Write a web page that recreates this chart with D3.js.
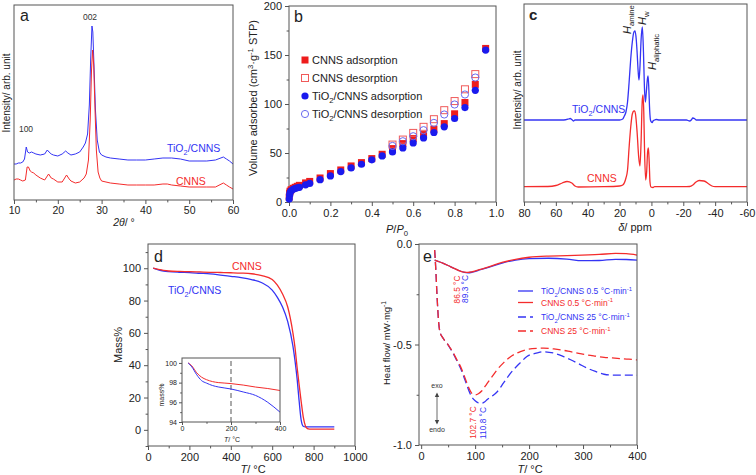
<!DOCTYPE html>
<html><head><meta charset="utf-8">
<script src="https://cdn.jsdelivr.net/npm/d3@7"></script>
<style>body{margin:0;background:#fff}svg{font-family:Arial,"Liberation Sans",sans-serif}</style>
</head><body><svg id="c" width="756" height="475"></svg>
<script>
// ---------- DATA ----------
// (a) XRD
const xrdThetaTi = [10,10.5,11,11.5,12,12.4,12.8,13.1,13.5,14,14.5,15,16,17,17.6,18,18.5,19,20,21,21.8,22.3,23,24,25,25.8,26.3,26.8,27.2,27.5,27.8,28.0,28.3,28.6,29,29.5,30,31,32,34,36,38,40,42,44,46,48,50,52,54,56,57.8,58.5,59.2,60];
const xrdIntTi   = [36,36,37,37,38,41,53,48,47,48,47,46,45,46,50,48,46,45,44,46,49,47,45,46,48,53,57,66,95,140,174,168,130,90,60,48,45,43,42,41,40,40,40,41,42,42,41,39,39,39,40,43,41,39,36];
const xrdThetaCN = [10,10.5,11,11.5,12,12.6,13.0,13.3,13.7,14,14.5,15,16,17,17.9,18.5,19,20,21,22,22.6,23,24,25,26,26.5,27,27.4,27.7,27.95,28.2,28.5,28.8,29.2,29.6,30,32,34,36,38,40,42,44,45,46,48,50,52,54,56,57.8,58.5,59.2,60];
const xrdIntCN   = [20,21,21,20,19,20,33,33,29,28,27,25,22,20,26,22,21,18,18,25,21,19,17,18,22,26,40,80,130,150,135,90,50,28,22,19,17,16,15,15,15,15,16,16,15,14,13,13,13,13,17,15,13,11];
const xrdTicks = [10,20,30,40,50,60];
const xrdMinor = [15,25,35,45,55];

// (b) N2 isotherms
const bP = [0.001,0.003,0.005,0.01,0.02,0.03,0.04,0.05,0.08,0.1,0.15,0.2,0.25,0.3,0.35,0.4,0.45,0.5,0.55,0.6,0.65,0.7,0.75,0.8,0.85,0.9,0.95];
const cnnsAds = [5,9,11,12.5,14,15,16,17,19.5,21,24.5,29,32.7,36.8,40.2,44.3,48.7,54.5,59.6,64.7,68.8,74.3,80,90,101.5,120,156.7];
const tiAds   = [3,7,9.5,11.5,13,14,14.5,15,17.5,19,22.8,26.6,31,34.8,38.5,43,47,51.1,55.2,60.3,65.4,70.9,76.7,85.2,96.4,114,155];
const bPdes = [0.5,0.55,0.6,0.65,0.7,0.75,0.8,0.85,0.9];
const cnnsDes = [58.6,63.7,70.5,76.7,84.5,93.7,103,115,130.5];
const tiDes   = [57.2,62,67.1,73.3,80.7,89.3,99.5,109.7,127];
const bLegend = ["CNNS adsorption","CNNS desorption","TiO2/CNNS adsorption","TiO2/CNNS desorption"];

// (c) 1H NMR
const nmrPpmTi = [80,55,52,51,50,49,48,30,20,18,17,16,15,14,13,12,11,10.3,9.5,9,8.3,7.8,7.2,6.5,5.7,5.0,4.4,3.8,3.3,2.6,2.1,1.6,1.1,0.6,0,-0.5,-1,-2,-3,-5,-22,-24,-25,-26,-27,-28,-30,-60];
const nmrIntTi = [82,82,83,83.5,82.5,81,82,82,82,83,86,90,100,120,143,160,170,171,162,150,130,122,135,162,175,150,115,100,108,122,126,112,92,82,80,79.5,81,82,82.5,82,82,81,82,84,83.5,82,82,82];
const nmrPpmCN = [80,65,60,56,53,50,48,46,30,20,18,16,15,14,13,12,11,10.5,10,9,8,7.2,6.5,5.8,5.3,4.8,4.3,3.6,3,2.4,1.9,1.4,0.9,0.3,-1,-2,-20,-24,-26,-28,-30,-33,-36,-38,-40,-60];
const nmrIntCN = [15.3,15.5,16.5,19,20.5,19,16,15,15.3,16,17,24,32,55,75,88,91,91,88,70,45,36,60,100,107,90,50,22,30,50,54,40,20,15,14.5,15.3,15.3,15.5,17,20,21.5,21,18,16,15.3,15.3];
const nmrTicks = [80,60,40,20,0,-20,-40,-60];
const nmrMinor = [70,50,30,10,-10,-30,-50];

// (d) TGA
const tgaT = [25,50,75,100,150,200,250,300,350,400,450,500,550,600,625,650,675,700,710,720,730,740,750,760,770,780,800,850,900];
const tgaCNNS = [100,99.3,98.7,98.3,98.0,97.9,97.7,97.5,97.35,97.2,97.0,96.6,95.5,93,89.5,84,76,60,51,39,28,17.5,8,2.5,0.8,0.5,0.4,0.4,0.4];
const tgaTi   = [100,99.0,98.3,97.9,97.5,97.3,96.9,96.5,95.8,95.0,94.2,93,91,86.5,82,76,67,52,43,32,18,6,2.2,1.8,1.8,1.8,1.8,1.8,1.8];
const insetT = [25,40,60,80,100,125,150,175,200,250,300,350,400];
const insetCNNS = [100,99.7,99.0,98.55,98.3,98.1,98.0,97.95,97.9,97.75,97.55,97.4,97.2];
const insetTi   = [100,99.6,98.8,98.2,97.95,97.7,97.55,97.45,97.35,97.05,96.7,96.0,95.0];

// (e) DSC
const dscT05 = [25,30,40,50,60,70,80,87,95,110,125,150,175,200,236,270,298,330,360,380,400];
const dscTi05 = [-0.08,-0.085,-0.095,-0.107,-0.12,-0.132,-0.141,-0.143,-0.14,-0.128,-0.116,-0.095,-0.08,-0.073,-0.071,-0.075,-0.083,-0.082,-0.076,-0.077,-0.08];
const dscCN05 = [-0.08,-0.085,-0.095,-0.107,-0.12,-0.132,-0.14,-0.141,-0.138,-0.126,-0.114,-0.092,-0.076,-0.066,-0.06,-0.058,-0.055,-0.052,-0.047,-0.048,-0.055];
const dscT25 = [25,27,29.5,32.6,35,38.8,43,48,54,60,66,73,79,85,90,94,100,106,112.6,118,122,130,141,153,165,184,196,215,227,246,262,277,292,308,323,339,354,369,385,400];
const dscCN25 = [-0.03,-0.12,-0.262,-0.395,-0.44,-0.461,-0.478,-0.494,-0.518,-0.544,-0.575,-0.61,-0.65,-0.693,-0.725,-0.743,-0.751,-0.745,-0.73,-0.71,-0.695,-0.665,-0.625,-0.59,-0.562,-0.535,-0.525,-0.519,-0.518,-0.522,-0.528,-0.536,-0.544,-0.552,-0.558,-0.564,-0.567,-0.57,-0.573,-0.577];
const dscTi25 = [-0.03,-0.12,-0.262,-0.395,-0.44,-0.461,-0.478,-0.494,-0.52,-0.548,-0.58,-0.618,-0.66,-0.705,-0.74,-0.762,-0.78,-0.79,-0.792,-0.785,-0.775,-0.76,-0.735,-0.69,-0.645,-0.59,-0.56,-0.542,-0.536,-0.543,-0.558,-0.576,-0.596,-0.618,-0.634,-0.648,-0.652,-0.652,-0.652,-0.653];

// ---------- DRAWING ----------
const svg = d3.select('#c');
const BLUE = '#3434f4', RED = '#f42c2c', INK = '#222', FRAME = '#555';

function rich(sel, parts, fs){
  let shift = 0;
  parts.forEach(p => {
    const [s,t] = Array.isArray(p) ? p : [p,'n'];
    const ts = sel.append('tspan').text(s);
    let target = 0;
    if (t==='sub'){ target = fs*0.3; ts.attr('font-size', fs*0.7); }
    if (t==='sup'){ target = -fs*0.4; ts.attr('font-size', fs*0.7); }
    if (t==='i' ) ts.attr('font-style','italic');
    if (target !== shift){ ts.attr('dy', target - shift); shift = target; }
  });
}
function label(x, y, parts, o={}){
  const fs = o.fs || 11;
  const t = svg.append('text').attr('x',x).attr('y',y).attr('font-size',fs)
    .attr('fill', o.color || INK).attr('text-anchor', o.anchor || 'start');
  if (o.rot) t.attr('transform',`rotate(-90,${x},${y})`);
  if (o.weight) t.attr('font-weight', o.weight);
  rich(t, typeof parts === 'string' ? [parts] : parts, fs);
  return t;
}
function frame(xs, ys){
  const [x0,x1] = xs.range(), [y0,y1] = ys.range();
  svg.append('rect').attr('x',Math.min(x0,x1)).attr('y',Math.min(y0,y1))
    .attr('width',Math.abs(x1-x0)).attr('height',Math.abs(y1-y0))
    .attr('fill','none').attr('stroke',FRAME).attr('stroke-width',1);
}
function axis(kind, scale, pos, major, minor, fmt, fs=11, size=4, pad=3){
  const mk = kind==='x' ? d3.axisBottom : d3.axisLeft;
  const tr = kind==='x' ? `translate(0,${pos})` : `translate(${pos},0)`;
  const gm = svg.append('g').attr('transform',tr).call(mk(scale).tickValues(minor).tickSize(size*0.6).tickFormat(''));
  const g = svg.append('g').attr('transform',tr).call(mk(scale).tickValues(major).tickSize(size).tickPadding(pad).tickFormat(fmt));
  [gm,g].forEach(a => { a.select('.domain').remove(); a.selectAll('line').attr('stroke',FRAME); });
  g.attr('font-family',null).attr('font-size',fs);
  g.selectAll('text').attr('fill',INK);
}
function line(xs, ys, X, Y, color, opts={}){
  const gen = d3.line().x((d,i)=>xs(X[i])).y((d,i)=>ys(Y[i])).curve(opts.curve || d3.curveMonotoneX);
  svg.append('path').attr('d', gen(X)).attr('fill','none').attr('stroke',color)
    .attr('stroke-width', opts.w || 1.2).attr('stroke-dasharray', opts.dash || null)
    .attr('stroke-linejoin','round');
}
const TI = ['TiO',['2','sub'],'/CNNS'];

// ----- (a) -----
{
  const x = d3.scaleLinear([10,60],[14,233]);
  const y = d3.scaleLinear([0,195],[200,5]);
  line(x,y,xrdThetaTi,xrdIntTi,BLUE,{w:1,curve:d3.curveLinear});
  line(x,y,xrdThetaCN,xrdIntCN,RED,{w:1,curve:d3.curveLinear});
  frame(x,y);
  axis('x',x,200,xrdTicks,xrdMinor,d=>String(d),10.5);
  label(20,21,'a',{fs:16});
  label(90,20,'002',{fs:8.5,anchor:'middle',color:'#333'});
  label(26,132,'100',{fs:8.5,anchor:'middle',color:'#333'});
  label(167,152,TI,{fs:10.5,color:BLUE});
  label(176,185,'CNNS',{fs:10.5,color:RED});
  label(10,93,'Intensity/ arb. unit',{fs:10,rot:true,anchor:'middle'});
  label(124,226,[['2θ','i'],'/ °'],{fs:10.5,anchor:'middle'});
}

// ----- (b) -----
{
  const x = d3.scaleLinear([0,1],[289,496]);
  const y = d3.scaleLinear([0,200],[202,6]);
  frame(x,y);
  axis('x',x,202,[0,0.2,0.4,0.6,0.8,1.0],[0.1,0.3,0.5,0.7,0.9],d=>d.toFixed(1),11);
  axis('y',y,289,[0,50,100,150,200],[25,75,125,175],d=>String(d),11);
  const S = 7, R = 3.6;
  const sq = (data, X, fill, stroke) => svg.append('g').selectAll('rect').data(data).join('rect')
      .attr('x',(d,i)=>x(X[i])-S/2).attr('y',d=>y(d)-S/2).attr('width',S).attr('height',S)
      .attr('fill',fill).attr('stroke',stroke).attr('stroke-width',1);
  const ci = (data, X, fill, stroke) => svg.append('g').selectAll('circle').data(data).join('circle')
      .attr('cx',(d,i)=>x(X[i])).attr('cy',d=>y(d)).attr('r',R)
      .attr('fill',fill).attr('stroke',stroke).attr('stroke-width',1);
  sq(cnnsAds,bP,'#ee1c1c','none');
  sq(cnnsDes,bPdes,'none','#f05a5a');
  ci(tiAds,bP,'#1a1aee','none');
  ci(tiDes,bPdes,'none','#6a6af0');
  // legend
  const rows = [60,78,96,114];
  svg.append('rect').attr('x',305-S/2).attr('y',rows[0]-S/2).attr('width',S).attr('height',S).attr('fill','#ee1c1c');
  svg.append('rect').attr('x',305-S/2).attr('y',rows[1]-S/2).attr('width',S).attr('height',S).attr('fill','none').attr('stroke','#f05a5a');
  svg.append('circle').attr('cx',305).attr('cy',rows[2]).attr('r',R).attr('fill','#1a1aee');
  svg.append('circle').attr('cx',305).attr('cy',rows[3]).attr('r',R).attr('fill','none').attr('stroke','#6a6af0');
  bLegend.forEach((t,i) => {
    const parts = t.startsWith('TiO2') ? ['TiO',['2','sub'],t.slice(4)] : [t];
    label(312,rows[i]+4,parts,{fs:11});
  });
  label(294,22,'b',{fs:16});
  label(257,98,['Volume adsorbed (cm',['3','sup'],'·g',['-1','sup'],' STP)'],{fs:11,rot:true,anchor:'middle'});
  label(397,233,[['P','i'],'/',['P','i'],['0','sub']],{fs:11,anchor:'middle'});
}

// ----- (c) -----
{
  const x = d3.scaleLinear([80,-60],[524,747]);
  const y = d3.scaleLinear([0,198],[202,4]);
  line(x,y,nmrPpmTi,nmrIntTi,BLUE,{w:1.3});
  line(x,y,nmrPpmCN,nmrIntCN,RED,{w:1.3});
  frame(x,y);
  axis('x',x,202,nmrTicks,nmrMinor,d=>String(d),11);
  label(529,20,'c',{fs:15,weight:'bold'});
  label(572,113,TI,{fs:10.5,color:BLUE});
  label(587,182,'CNNS',{fs:10.5,color:RED});
  label(631,34,[['H','i'],['amine','sub']],{fs:11,rot:true});
  label(646,25,[['H','i'],['w','sub']],{fs:11,rot:true});
  label(656,70,[['H','i'],['aliphatic','sub']],{fs:11,rot:true});
  label(521,90,'Intensity/ arb. unit',{fs:10,rot:true,anchor:'middle'});
  label(635,231,[['δ','i'],'/ ppm'],{fs:11,anchor:'middle'});
}

// ----- (d) -----
{
  const x = d3.scaleLinear([0,1000],[148,355]);
  const y = d3.scaleLinear([-10,115],[446,244]);
  line(x,y,tgaT,tgaTi,BLUE,{w:1.3});
  line(x,y,tgaT,tgaCNNS,RED,{w:1.3});
  frame(x,y);
  axis('x',x,446,[0,200,400,600,800,1000],[100,300,500,700,900],d=>String(d),11);
  axis('y',y,148,[0,20,40,60,80,100],[-10,10,30,50,70,90,110],d=>String(d),11);
  label(154,262,'d',{fs:16});
  label(232,269.5,'CNNS',{fs:10.5,color:RED});
  label(168,293.5,TI,{fs:10.5,color:BLUE});
  label(122,345,'Mass%',{fs:11,rot:true,anchor:'middle'});
  label(253,473,[['T','i'],'/ °C'],{fs:11,anchor:'middle'});
  // inset
  const xi = d3.scaleLinear([0,400],[182,280]);
  const yi = d3.scaleLinear([94,100.5],[422,358]);
  svg.append('rect').attr('x',182).attr('y',358).attr('width',98).attr('height',64).attr('fill','#fff');
  svg.append('line').attr('x1',xi(200)).attr('x2',xi(200)).attr('y1',yi.range()[0]).attr('y2',yi.range()[1])
    .attr('stroke','#555').attr('stroke-width',1).attr('stroke-dasharray','5,3');
  line(xi,yi,insetT,insetCNNS,RED,{w:1});
  line(xi,yi,insetT,insetTi,BLUE,{w:1});
  frame(xi,yi);
  axis('x',xi,422,[0,200,400],[100,300],d=>String(d),7,3,1.5);
  axis('y',yi,182,[94,96,98,100],[95,97,99],d=>String(d),7,3,2);
  label(164,395,'mass%',{fs:7,rot:true,anchor:'middle'});
  label(232,441.5,[['T','i'],'/ °C'],{fs:7,anchor:'middle'});
}

// ----- (e) -----
{
  const x = d3.scaleLinear([-4,400],[419,637]);
  const y = d3.scaleLinear([-1,0],[445,244]);
  line(x,y,dscT25,dscTi25,BLUE,{w:1.3,dash:'8,4'});
  line(x,y,dscT25,dscCN25,RED,{w:1.3,dash:'8,4'});
  line(x,y,dscT05,dscTi05,BLUE,{w:1.3});
  line(x,y,dscT05,dscCN05,RED,{w:1.3});
  frame(x,y);
  axis('x',x,445,[0,100,200,300,400],[50,150,250,350],d=>String(d),11);
  axis('y',y,419,[0,-0.5,-1],[-0.25,-0.75],d=>d.toFixed(1),11);
  label(423,262,'e',{fs:16});
  label(390,343,['Heat flow/ mW·mg',['-1','sup']],{fs:9.5,rot:true,anchor:'middle'});
  label(530,473,[['T','i'],'/ °C'],{fs:11,anchor:'middle'});
  // peak annotations
  label(459.5,289.5,'86.5 °C',{fs:8.3,rot:true,anchor:'middle',color:RED});
  label(468,289,'89.3 °C',{fs:8.3,rot:true,anchor:'middle',color:BLUE});
  label(476,422.5,'102.7 °C',{fs:8.3,rot:true,anchor:'middle',color:RED});
  label(486,423,'110.8 °C',{fs:8.3,rot:true,anchor:'middle',color:BLUE});
  // legend
  const rows = [291,302.5,317,331];
  const items = [
    {c:BLUE,d:null,t:['TiO',['2','sub'],'/CNNS 0.5 °C·min',['-1','sup']]},
    {c:RED,d:null,t:['CNNS 0.5 °C·min',['-1','sup']]},
    {c:BLUE,d:'8,4',t:['TiO',['2','sub'],'/CNNS 25 °C·min',['-1','sup']]},
    {c:RED,d:'8,4',t:['CNNS 25 °C·min',['-1','sup']]}];
  items.forEach((it,i) => {
    svg.append('line').attr('x1',518).attr('x2',533).attr('y1',rows[i]).attr('y2',rows[i])
      .attr('stroke',it.c).attr('stroke-width',1.3).attr('stroke-dasharray',it.d);
    label(541,rows[i]+3,it.t,{fs:8.5,color:it.c});
  });
  // exo / endo
  label(437,388,'exo',{fs:7,anchor:'middle',color:'#333'});
  label(437,432,'endo',{fs:7,anchor:'middle',color:'#333'});
  svg.append('line').attr('x1',437).attr('x2',437).attr('y1',394).attr('y2',423).attr('stroke','#444').attr('stroke-width',0.8);
  svg.append('path').attr('d','M434.8,397 L437,392.5 L439.2,397 Z').attr('fill','#444');
  svg.append('path').attr('d','M434.8,420 L437,424.5 L439.2,420 Z').attr('fill','#444');
}
</script>
</body></html>
